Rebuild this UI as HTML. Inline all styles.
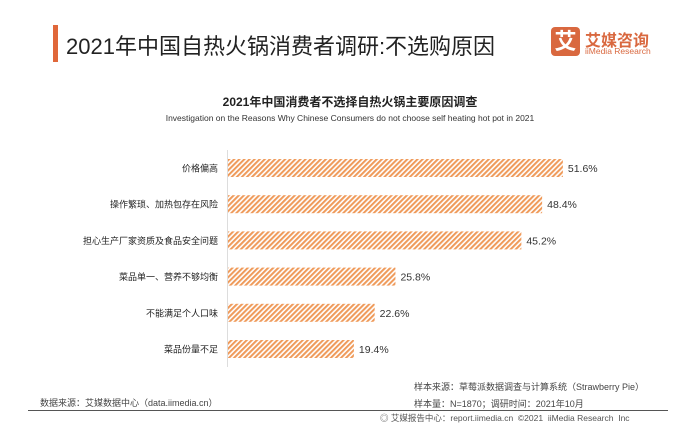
<!DOCTYPE html>
<html><head><meta charset="utf-8"><style>
body{margin:0;width:700px;height:432px;background:#fff;position:relative;overflow:hidden;font-family:"Liberation Sans","Noto Sans CJK SC",sans-serif;}
.abs{position:absolute;white-space:nowrap;}
</style></head><body>
<div class="abs" style="left:53px;top:25px;width:5px;height:37px;background:#e0673a"></div>
<div class="abs" style="left:66px;top:29px;font-size:22px;color:#222;">2021年中国自热火锅消费者调研:不选购原因</div>
<div class="abs" style="left:551px;top:27px;width:29px;height:29px;background:#d9683f;border-radius:4px;color:#fff;font-size:22px;line-height:29px;text-align:center;font-weight:bold">艾</div>
<div class="abs" style="left:585px;top:27px;font-size:16px;color:#d9683f;font-weight:bold">艾媒咨询</div>
<div class="abs" style="left:585px;top:46px;font-size:8.5px;color:#d9683f">iiMedia Research</div>
<div class="abs" style="left:0;width:700px;text-align:center;top:93px;font-size:12px;font-weight:bold;color:#222">2021年中国消费者不选择自热火锅主要原因调查</div>
<div class="abs" style="left:0;width:700px;text-align:center;top:113px;font-size:8.5px;color:#333">Investigation on the Reasons Why Chinese Consumers do not choose self heating hot pot in 2021</div>
<svg class="abs" style="left:0;top:0" width="700" height="432">
<defs><pattern id="hatch" width="3.6" height="3.6" patternUnits="userSpaceOnUse" patternTransform="rotate(45)"><rect width="3.6" height="3.6" fill="#fff"/><rect width="2" height="3.6" fill="#ef9a5a"/></pattern></defs>
<line x1="227.5" y1="150" x2="227.5" y2="367" stroke="#ddd" stroke-width="1"/>
<g id="bars"></g>
</svg>
<div class="abs" style="left:40px;top:396px;font-size:9px;color:#444">数据来源：艾媒数据中心（data.iimedia.cn）</div>
<div class="abs" style="left:414px;top:380px;font-size:9px;color:#444">样本来源：草莓派数据调查与计算系统（Strawberry Pie）</div>
<div class="abs" style="left:414px;top:397px;font-size:9px;color:#444">样本量：N=1870；调研时间：2021年10月</div>
<div class="abs" style="left:28px;top:410px;width:640px;height:1px;background:#555"></div>
<div class="abs" style="left:380px;top:412px;font-size:8.5px;color:#555">◎ 艾媒报告中心：report.iimedia.cn &nbsp;©2021 &nbsp;iiMedia Research &nbsp;Inc</div>
<script>
const categories=["价格偏高","操作繁琐、加热包存在风险","担心生产厂家资质及食品安全问题","菜品单一、营养不够均衡","不能满足个人口味","菜品份量不足"];
const values=[51.6,48.4,45.2,25.8,22.6,19.4];
const labels=["51.6%","48.4%","45.2%","25.8%","22.6%","19.4%"];
const x0=228, scale=6.49, top0=168, step=36.2, bh=18;
const xs=v=>x0+v*scale, ys=i=>top0+i*step;
const g=document.getElementById('bars'), ns="http://www.w3.org/2000/svg";
categories.forEach((c,i)=>{
 const r=document.createElementNS(ns,'rect');
 r.setAttribute('x',x0);r.setAttribute('y',ys(i)-bh/2);r.setAttribute('width',xs(values[i])-x0);r.setAttribute('height',bh);r.setAttribute('fill','url(#hatch)');
 
 
 g.appendChild(r);
 const t=document.createElementNS(ns,'text');
 t.setAttribute('x',x0-10);t.setAttribute('y',ys(i)+3.5);t.setAttribute('text-anchor','end');t.setAttribute('font-size','9');t.setAttribute('fill','#222');t.textContent=c;
 
 
 g.appendChild(t);
 const v=document.createElementNS(ns,'text');
 v.setAttribute('x',xs(values[i])+5);v.setAttribute('y',ys(i)+4);v.setAttribute('font-size','10.5');v.setAttribute('fill','#333');v.textContent=labels[i];
 
 
 g.appendChild(v);
});
</script>
</body></html>
